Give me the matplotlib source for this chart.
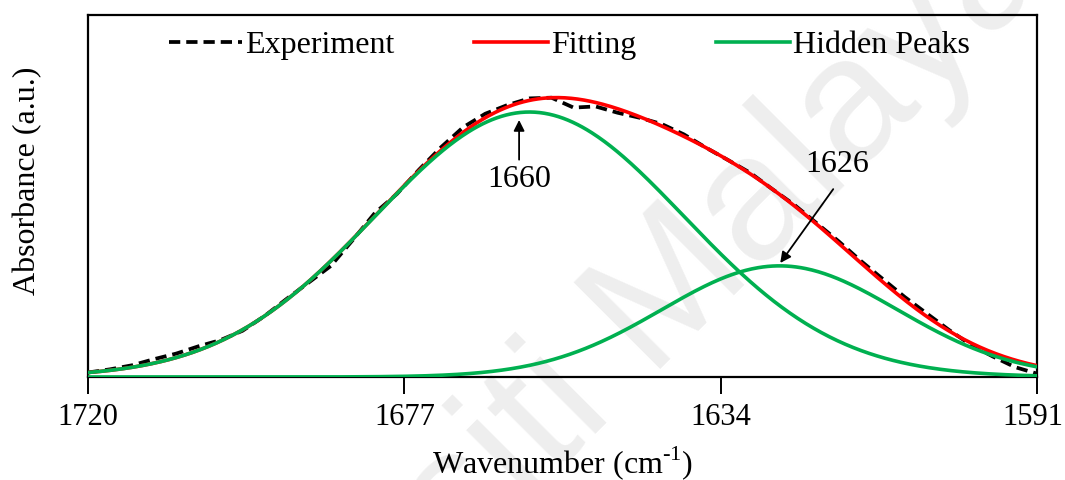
import numpy as np
import matplotlib
matplotlib.use("Agg")
import matplotlib.pyplot as plt
from matplotlib.transforms import ScaledTranslation

plt.rcParams['font.family'] = ['Liberation Serif', 'DejaVu Serif']
plt.rcParams['mathtext.fontset'] = 'custom'
plt.rcParams['mathtext.rm'] = 'Liberation Serif'

# ---------------- data ----------------
exp_wavenumber = [1720, 1717, 1714, 1711, 1708, 1705, 1702, 1699, 1696, 1693,
                  1690, 1687, 1684, 1681, 1678, 1675, 1672, 1669, 1666, 1663,
                  1660, 1657, 1654, 1651, 1648, 1645, 1642, 1639, 1636, 1633,
                  1630, 1627, 1624, 1621, 1618, 1615, 1612, 1609, 1606, 1603,
                  1600, 1597, 1594, 1591]
exp_absorbance = [0.0124, 0.0212, 0.0324, 0.0494, 0.0647, 0.0847, 0.1019, 0.1277, 0.1684, 0.2157,
                  0.2610, 0.3067, 0.3786, 0.4531, 0.5058, 0.5728, 0.6349, 0.6899, 0.7272, 0.7512,
                  0.7696, 0.7716, 0.7442, 0.7474, 0.7300, 0.7161, 0.6987, 0.6702, 0.6335, 0.5993,
                  0.5642, 0.5193, 0.4758, 0.4257, 0.3755, 0.3216, 0.2713, 0.2213, 0.1757, 0.1305,
                  0.0889, 0.0566, 0.0274, 0.0093]

peak_centers = [1660, 1626]
peak_heights = [0.732, 0.307]
peak_widths = [21.0, 16.0]

xticks = [1720, 1677, 1634, 1591]
legend_labels = ['Experiment', 'Fitting', 'Hidden Peaks']

# ---------------- figure ----------------
fig = plt.figure(figsize=(10.65, 4.8), dpi=100)
ax = fig.add_axes([88/1065, 1-377/480, (1037-88)/1065, (377-15)/480])
ax.patch.set_alpha(0)

# watermark
fig.text(545/1065, 1-420/480, 'Universiti Malaya', family=['Liberation Sans'],
         fontsize=128, color='#EEEEEE', rotation=45, rotation_mode='anchor',
         ha='center', va='center', zorder=-5)

wn = np.linspace(1720, 1591, 600)
peaks = [h*np.exp(-(wn-c)**2/(2*s**2)) for c, h, s in zip(peak_centers, peak_heights, peak_widths)]
fit = np.sum(peaks, axis=0)

ax.plot(exp_wavenumber, exp_absorbance, color='black', lw=2.7, ls=(0, (3, 1.6)),
        label=legend_labels[0], zorder=2)
ax.plot(wn, fit, color='#FF0000', lw=2.6, label=legend_labels[1], zorder=3)
for i, p in enumerate(peaks):
    ax.plot(wn, p, color='#00B050', lw=2.6, label=legend_labels[2] if i == 0 else None, zorder=4)

ax.set_xlim(1720, 1591)
ax.set_ylim(0, 1.0)
ax.set_xticks(xticks)
ax.set_xticklabels([str(t) for t in xticks])
ax.set_yticks([])
ax.tick_params(axis='x', direction='out', length=12.5, width=1.4, pad=6, labelsize=22)
for sp in ax.spines.values():
    sp.set_linewidth(1.6)
last = ax.get_xticklabels()[-1]
last.set_transform(last.get_transform() + ScaledTranslation(-4/100, 0, fig.dpi_scale_trans))

ax.set_xlabel(r'Wavenumber (cm$^{\text{-1}}$)', fontsize=23, labelpad=9)
fig.text(28/1065, 1-181/480, 'Absorbance (a.u.)', rotation=90, ha='center', va='center', fontsize=23)

# annotations
ax.annotate('1660', xy=(1661.4, 0.71), xytext=(1661.4, 0.585), fontsize=23,
            ha='center', va='top',
            arrowprops=dict(arrowstyle='-|>', lw=1.3, color='black', mutation_scale=16,
                            shrinkA=2, shrinkB=0))
ax.annotate('', xy=(1625.9, 0.315), xytext=(1618.7, 0.519),
            arrowprops=dict(arrowstyle='-|>', lw=1.3, color='black', mutation_scale=16,
                            shrinkA=0, shrinkB=0))
ax.text(1618.1, 0.586, '1626', fontsize=23, ha='center', va='center')

leg = ax.legend(loc='center', bbox_to_anchor=(0.507, 0.917), ncol=3, frameon=False,
                fontsize=23, handlelength=2.3, handletextpad=0.1, columnspacing=2.5,
                borderaxespad=0)

fig.savefig('out.png', dpi=100)
